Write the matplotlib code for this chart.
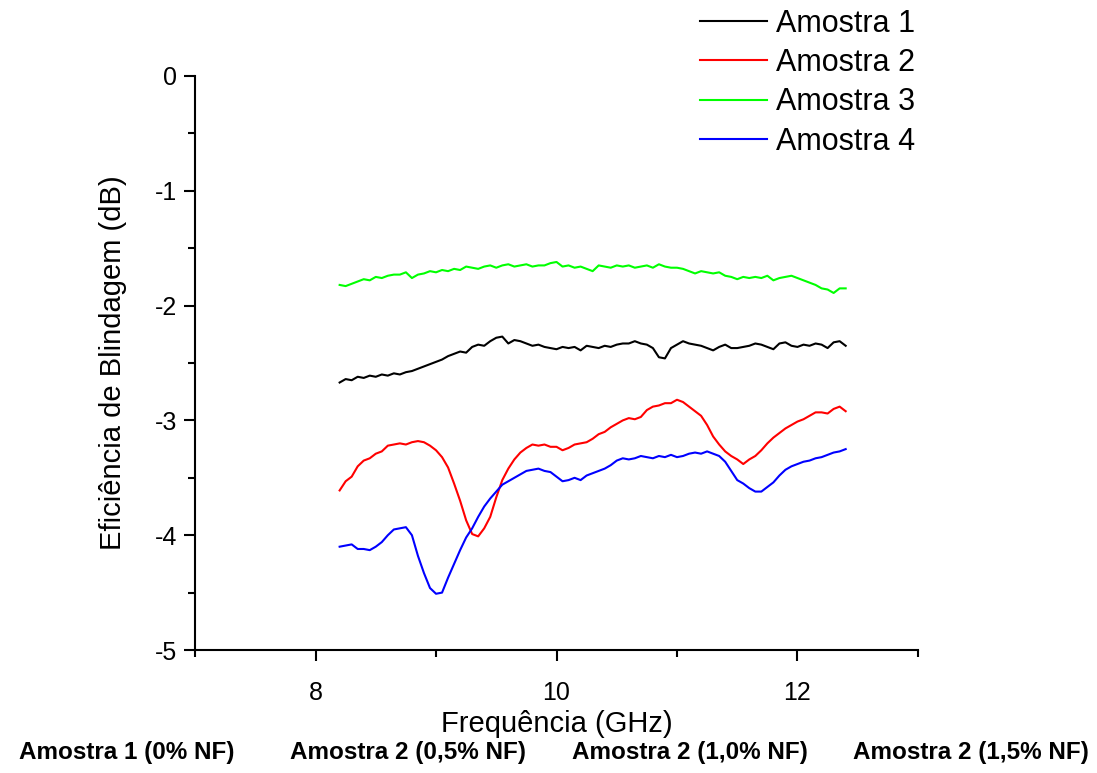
import numpy as np
import matplotlib.pyplot as plt
from matplotlib import font_manager
from matplotlib.ticker import MultipleLocator, FixedLocator

plt.rcParams['font.family'] = ['Liberation Sans', 'DejaVu Sans']
plt.rcParams['axes.unicode_minus'] = False

# Frequency grid (GHz), one reading every 0.05 GHz across the X band
freq = np.linspace(8.2, 12.4, 85)

amostra1 = [-2.67, -2.64, -2.65, -2.62, -2.63, -2.61, -2.62, -2.60, -2.61, -2.59,
            -2.60, -2.58, -2.57, -2.55, -2.53, -2.51, -2.49, -2.47, -2.44, -2.42,
            -2.40, -2.41, -2.36, -2.34, -2.35, -2.31, -2.28, -2.27, -2.33, -2.30,
            -2.31, -2.33, -2.35, -2.34, -2.36, -2.37, -2.38, -2.36, -2.37, -2.36,
            -2.39, -2.35, -2.36, -2.37, -2.35, -2.36, -2.34, -2.33, -2.33, -2.31,
            -2.33, -2.34, -2.37, -2.45, -2.46, -2.37, -2.34, -2.31, -2.33, -2.34,
            -2.35, -2.37, -2.39, -2.36, -2.34, -2.37, -2.37, -2.36, -2.35, -2.33,
            -2.34, -2.36, -2.38, -2.33, -2.32, -2.35, -2.36, -2.34, -2.35, -2.33,
            -2.34, -2.37, -2.32, -2.31, -2.35]

amostra2 = [-3.61, -3.53, -3.49, -3.40, -3.35, -3.33, -3.29, -3.27, -3.22, -3.21,
            -3.20, -3.21, -3.19, -3.18, -3.19, -3.22, -3.26, -3.32, -3.41, -3.55,
            -3.70, -3.87, -3.99, -4.01, -3.94, -3.84, -3.67, -3.52, -3.42, -3.34,
            -3.28, -3.24, -3.21, -3.22, -3.21, -3.23, -3.23, -3.26, -3.24, -3.21,
            -3.20, -3.19, -3.16, -3.12, -3.10, -3.06, -3.03, -3.00, -2.98, -2.99,
            -2.97, -2.91, -2.88, -2.87, -2.85, -2.85, -2.82, -2.84, -2.88, -2.92,
            -2.96, -3.04, -3.14, -3.21, -3.27, -3.31, -3.34, -3.38, -3.34, -3.31,
            -3.26, -3.20, -3.15, -3.11, -3.07, -3.04, -3.01, -2.99, -2.96, -2.93,
            -2.93, -2.94, -2.90, -2.88, -2.92]

amostra3 = [-1.82, -1.83, -1.81, -1.79, -1.77, -1.78, -1.75, -1.76, -1.74, -1.73,
            -1.73, -1.71, -1.76, -1.73, -1.72, -1.70, -1.71, -1.69, -1.70, -1.68,
            -1.69, -1.66, -1.67, -1.68, -1.66, -1.65, -1.67, -1.65, -1.64, -1.66,
            -1.65, -1.64, -1.66, -1.65, -1.65, -1.63, -1.62, -1.66, -1.65, -1.67,
            -1.66, -1.68, -1.70, -1.65, -1.66, -1.67, -1.65, -1.66, -1.65, -1.67,
            -1.66, -1.65, -1.67, -1.64, -1.66, -1.67, -1.67, -1.68, -1.70, -1.72,
            -1.70, -1.71, -1.72, -1.71, -1.74, -1.75, -1.77, -1.75, -1.76, -1.75,
            -1.76, -1.74, -1.78, -1.76, -1.75, -1.74, -1.76, -1.78, -1.80, -1.82,
            -1.85, -1.86, -1.89, -1.85, -1.85]

amostra4 = [-4.10, -4.09, -4.08, -4.12, -4.12, -4.13, -4.10, -4.06, -4.00, -3.95,
            -3.94, -3.93, -4.00, -4.18, -4.33, -4.46, -4.51, -4.50, -4.37, -4.25,
            -4.13, -4.02, -3.94, -3.84, -3.75, -3.68, -3.62, -3.56, -3.53, -3.50,
            -3.47, -3.44, -3.43, -3.42, -3.44, -3.45, -3.49, -3.53, -3.52, -3.50,
            -3.52, -3.48, -3.46, -3.44, -3.42, -3.39, -3.35, -3.33, -3.34, -3.33,
            -3.31, -3.32, -3.33, -3.31, -3.32, -3.30, -3.32, -3.31, -3.29, -3.28,
            -3.29, -3.27, -3.29, -3.31, -3.36, -3.44, -3.52, -3.55, -3.59, -3.62,
            -3.62, -3.58, -3.54, -3.48, -3.43, -3.40, -3.38, -3.36, -3.35, -3.33,
            -3.32, -3.30, -3.28, -3.27, -3.25]

series = [amostra1, amostra2, amostra3, amostra4]
labels = ['Amostra 1', 'Amostra 2', 'Amostra 3', 'Amostra 4']
colors = ['black', '#ff0000', '#00ff00', '#0000ff']

captions = ['Amostra 1 (0% NF)', 'Amostra 2 (0,5% NF)',
            'Amostra 2 (1,0% NF)', 'Amostra 2 (1,5% NF)']

fig = plt.figure(figsize=(10.97, 7.73), dpi=100)
ax = fig.add_axes([0.1778, 0.1591, 0.8368 - 0.1778, 0.9017 - 0.1591])

for y, lab, c in zip(series, labels, colors):
    ax.plot(freq, y, color=c, lw=1.5, label=lab)

ax.set_xlim(7, 13)
ax.set_ylim(-5, 0)
ax.xaxis.set_major_locator(FixedLocator([8, 10, 12]))
ax.xaxis.set_minor_locator(FixedLocator([7, 9, 11, 13]))
ax.yaxis.set_major_locator(MultipleLocator(1))
ax.yaxis.set_minor_locator(MultipleLocator(0.5))

for side in ['top', 'right']:
    ax.spines[side].set_visible(False)
for side in ['left', 'bottom']:
    ax.spines[side].set_linewidth(1.5)

ax.tick_params(which='major', direction='out', length=8, width=1.5, labelsize=18, pad=5)
ax.tick_params(axis='x', which='major', pad=14)
ax.tick_params(which='minor', direction='out', length=5, width=1.5)

ax.set_xlabel('Frequência (GHz)', fontsize=21, labelpad=4)
ax.set_ylabel('Eficiência de Blindagem (dB)', fontsize=21, labelpad=20)

leg = fig.legend(loc='upper left', bbox_to_anchor=(700 / 1097, 1 - 9 / 773),
                 frameon=False, fontsize=22, handlelength=2.2, handletextpad=0.3,
                 labelspacing=0.3, borderpad=0, borderaxespad=0)

# bold narrow captions under the chart
names = [f.name for f in font_manager.fontManager.ttflist]
if 'Liberation Sans Narrow' in names:
    cap_font, cap_size = 'Liberation Sans Narrow', 20
else:
    cap_font, cap_size = 'Liberation Sans', 17.5
cap_x = [127, 408, 690, 971]
for cx, txt in zip(cap_x, captions):
    fig.text(cx / 1097, 1 - 753 / 773, txt, ha='center', va='center',
             fontsize=cap_size, fontweight='bold', family=[cap_font, 'DejaVu Sans'])

fig.savefig('out.png', dpi=100)
